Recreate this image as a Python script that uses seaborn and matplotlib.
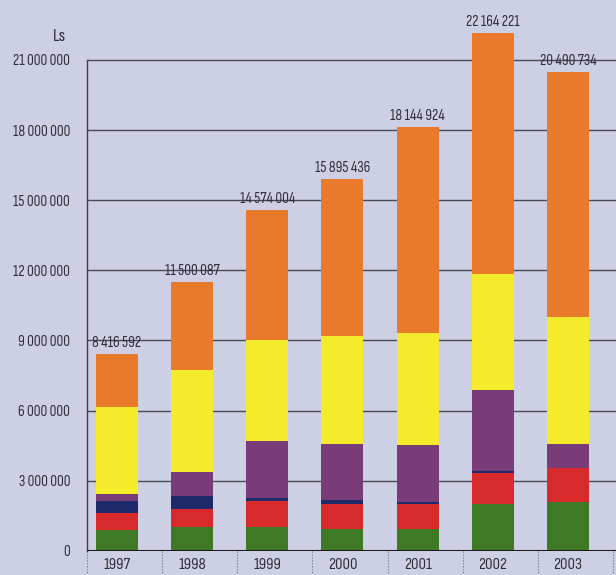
import pandas as pd
import matplotlib
matplotlib.use("Agg")
import matplotlib.pyplot as plt
import matplotlib.transforms as mtransforms
import seaborn as sns

years = ['1997', '1998', '1999', '2000', '2001', '2002', '2003']
totals = [8416592, 11500087, 14574004, 15895436, 18144924, 22164221, 20490734]

# segment values (bottom to top)
green = [900000, 1000000, 1000000, 950000, 950000, 2000000, 2110000]
red = [740000, 800000, 1140000, 1050000, 1050000, 1340000, 1430000]
navy = [500000, 550000, 100000, 180000, 100000, 80000, 0]
purple = [300000, 1030000, 2480000, 2400000, 2420000, 3440000, 1010000]
yellow = [3730000, 4360000, 4310000, 4620000, 4790000, 4990000, 5450000]

seg_names = ['green', 'red', 'navy', 'purple', 'yellow', 'orange']
seg_colors = ['#3e7a26', '#d92a2b', '#1f2a6b', '#7a3c78', '#f4ec2a', '#e9792b']

BG = '#cdd0e4'
TXT = '#2e2e38'


def fmt(v):
    return f"{int(v):,}".replace(",", " ")


def build_frame():
    df = pd.DataFrame({'year': years, 'green': green, 'red': red, 'navy': navy,
                       'purple': purple, 'yellow': yellow})
    df['orange'] = [t - sum(p) for t, p in zip(totals, zip(green, red, navy, purple, yellow))]
    return df


def draw(df):
    sns.set_style("white")
    plt.rcParams['font.family'] = ['Sofia Sans Condensed', 'DejaVu Sans']

    fig = plt.figure(figsize=(6.16, 5.75), dpi=100, facecolor=BG)
    ax = fig.add_axes([0.141, 0.042, 0.859, 0.935])
    ax.set_facecolor(BG)

    # cumulative stacks, draw tallest first so lower parts sit on top
    cum = df[seg_names].cumsum(axis=1)
    for name, color in reversed(list(zip(seg_names, seg_colors))):
        sns.barplot(x=df['year'], y=cum[name], color=color, width=0.56,
                    saturation=1, ax=ax, zorder=3, edgecolor='none', linewidth=0)

    top = ax.containers[0]
    ax.bar_label(top, labels=[fmt(t) for t in totals], padding=3,
                 fontsize=11, color=TXT, fontweight='medium')

    ax.set_xlim(-0.4, len(years) - 0.36)
    ax.set_ylim(0, 23000000)
    yt = list(range(0, 21000001, 3000000))
    ax.set_yticks(yt)
    ax.set_yticklabels([fmt(v) for v in yt], fontsize=11, color=TXT, fontweight='medium')
    for v in yt[1:]:
        ax.axhline(v, color='#4a4a55', lw=1, zorder=1)
    ax.axhline(0, color='#1a1a1a', lw=2.2, zorder=4)

    ax.tick_params(axis='y', length=0, pad=12)
    ax.tick_params(axis='x', length=0, pad=5, labelsize=12, labelcolor=TXT)
    for lab in ax.get_xticklabels():
        lab.set_fontweight('medium')
    ax.set_xlabel('')
    ax.set_ylabel('')

    for s in ['top', 'right', 'bottom']:
        ax.spines[s].set_visible(False)
    ax.spines['left'].set_bounds(0, 21000000)
    ax.spines['left'].set_color('#4a3a48')
    ax.spines['left'].set_linewidth(1)

    # dotted separators under the axis
    trans = mtransforms.blended_transform_factory(ax.transData, ax.transAxes)
    for i in range(len(years) + 1):
        ax.plot([i - 0.4, i - 0.4], [0, -0.05], transform=trans, clip_on=False,
                color='#6a6a78', lw=0.8, ls=':')

    ax.text(-0.04, 22000000, 'Ls', transform=mtransforms.blended_transform_factory(ax.transAxes, ax.transData),
            ha='right', va='center', fontsize=13, color=TXT, fontweight='medium')

    fig.savefig('out.png', dpi=100, facecolor=BG)


if __name__ == "__main__":
    data = build_frame()
    draw(data)
